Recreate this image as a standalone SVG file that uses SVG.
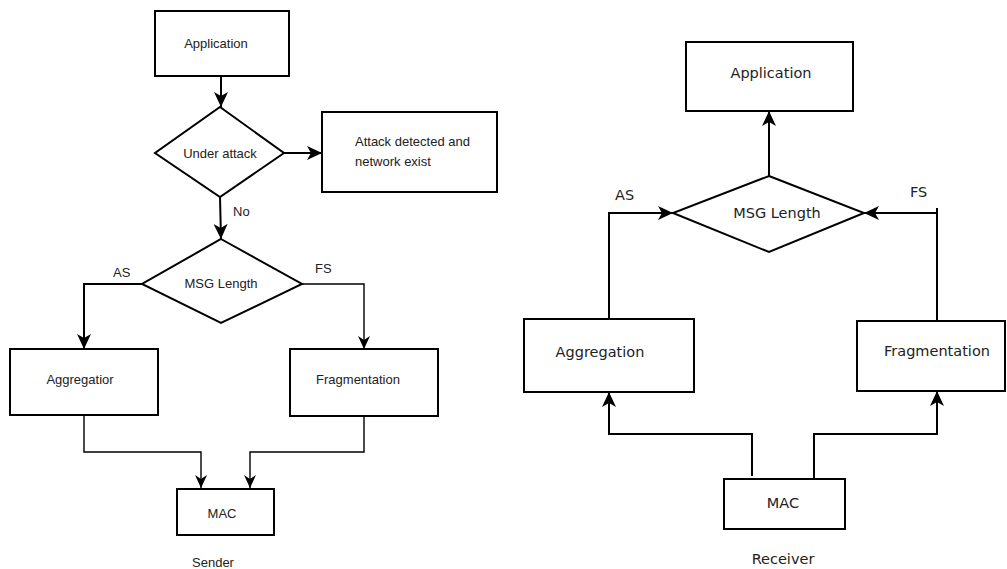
<svg xmlns="http://www.w3.org/2000/svg" width="1007" height="569" viewBox="0 0 1007 569">
<style>
.box{fill:#fff;stroke:#000;stroke-width:2}
.thin{fill:none;stroke:#000;stroke-width:1.4}
.ln{fill:none;stroke:#000;stroke-width:2}
.tl{font-family:"Liberation Sans",Arial,sans-serif;font-size:13px;fill:#222}
.tr{font-family:"DejaVu Sans",Verdana,sans-serif;font-size:14.5px;fill:#222}
</style>
<defs>
<marker id="ah" viewBox="0 0 15 14" refX="15" refY="7" markerWidth="15" markerHeight="14" markerUnits="userSpaceOnUse" orient="auto">
<path d="M0,0 L15,7 L0,14 L4,7 z" fill="#000"/>
</marker>
<marker id="ahs" viewBox="0 0 13 12" refX="13" refY="6" markerWidth="13" markerHeight="12" markerUnits="userSpaceOnUse" orient="auto">
<path d="M0,0 L13,6 L0,12 L4,6 z" fill="#000"/>
</marker>
</defs>
<rect width="1007" height="569" fill="#fff"/>
<g id="connectors">
<line class="ln" x1="221" y1="76" x2="221" y2="107" marker-end="url(#ah)"/>
<line class="ln" x1="284" y1="153" x2="322" y2="153" marker-end="url(#ah)"/>
<line class="ln" x1="220" y1="197" x2="221" y2="239" marker-end="url(#ah)"/>
<polyline class="ln" points="142,284 84,284 84,349" marker-end="url(#ah)"/>
<polyline class="thin" points="302,284 364,284 364,349" marker-end="url(#ahs)"/>
<polyline class="thin" points="84,415 84,452 201,452 201,488" marker-end="url(#ahs)"/>
<polyline class="thin" points="364,416 364,452 250,452 250,488" marker-end="url(#ahs)"/>
<line class="ln" x1="769" y1="176" x2="769" y2="111" marker-end="url(#ah)"/>
<polyline class="ln" points="609,319 609,213 673,213" marker-end="url(#ah)"/>
<polyline class="ln" points="937,320 937,213 864,213" marker-end="url(#ah)"/>
<line class="ln" x1="937" y1="208" x2="937" y2="214"/>
<polyline class="ln" points="752,476 752,434 609,434 609,392" marker-end="url(#ah)"/>
<polyline class="ln" points="814,479 814,434 937,434 937,391" marker-end="url(#ah)"/>
</g>
<g id="s-application"><rect class="box" x="155" y="11" width="134" height="65"/><text class="tl" x="216" y="48" text-anchor="middle">Application</text></g>
<g id="s-underattack"><polygon class="box" points="220,107 284,153 220,197 155,153"/><text class="tl" x="220" y="158" text-anchor="middle">Under attack</text></g>
<g id="s-attack"><rect class="box" x="322" y="112" width="175" height="80"/><text class="tl" x="355" y="146">Attack detected and</text><text class="tl" x="355" y="166">network exist</text></g>
<g id="s-msglength"><polygon class="box" points="221,239 302,284 221,323 142,284"/><text class="tl" x="221" y="288" text-anchor="middle">MSG Length</text></g>
<g id="s-aggregation"><rect class="box" x="10" y="349" width="148" height="66"/><text class="tl" x="80" y="384" text-anchor="middle">Aggregatior</text></g>
<g id="s-fragmentation"><rect class="box" x="290" y="349" width="148" height="67"/><text class="tl" x="358" y="384" text-anchor="middle">Fragmentation</text></g>
<g id="s-mac"><rect class="box" x="177" y="489" width="97" height="46"/><text class="tl" x="222" y="518" text-anchor="middle">MAC</text></g>
<g id="s-labels">
<text class="tl" x="233" y="216">No</text>
<text class="tl" x="113" y="277">AS</text>
<text class="tl" x="315" y="273">FS</text>
<text class="tl" x="213" y="567" text-anchor="middle">Sender</text>
</g>
<g id="r-application"><rect class="box" x="686" y="42" width="167" height="69"/><text class="tr" x="771" y="78" text-anchor="middle">Application</text></g>
<g id="r-msglength"><polygon class="box" points="769,176 864,213 769,252 673,213"/><text class="tr" x="777" y="218" text-anchor="middle">MSG Length</text></g>
<g id="r-aggregation"><rect class="box" x="524" y="319" width="170" height="73"/><text class="tr" x="600" y="357" text-anchor="middle">Aggregation</text></g>
<g id="r-fragmentation"><rect class="box" x="857" y="321" width="148" height="70"/><text class="tr" x="937" y="356" text-anchor="middle">Fragmentation</text></g>
<g id="r-mac"><rect class="box" x="724" y="479" width="121" height="50"/><text class="tr" x="783" y="508" text-anchor="middle">MAC</text></g>
<g id="r-labels">
<text class="tr" x="615" y="200">AS</text>
<text class="tr" x="910" y="197">FS</text>
<text class="tr" x="783" y="564" text-anchor="middle">Receiver</text>
</g>
</svg>
